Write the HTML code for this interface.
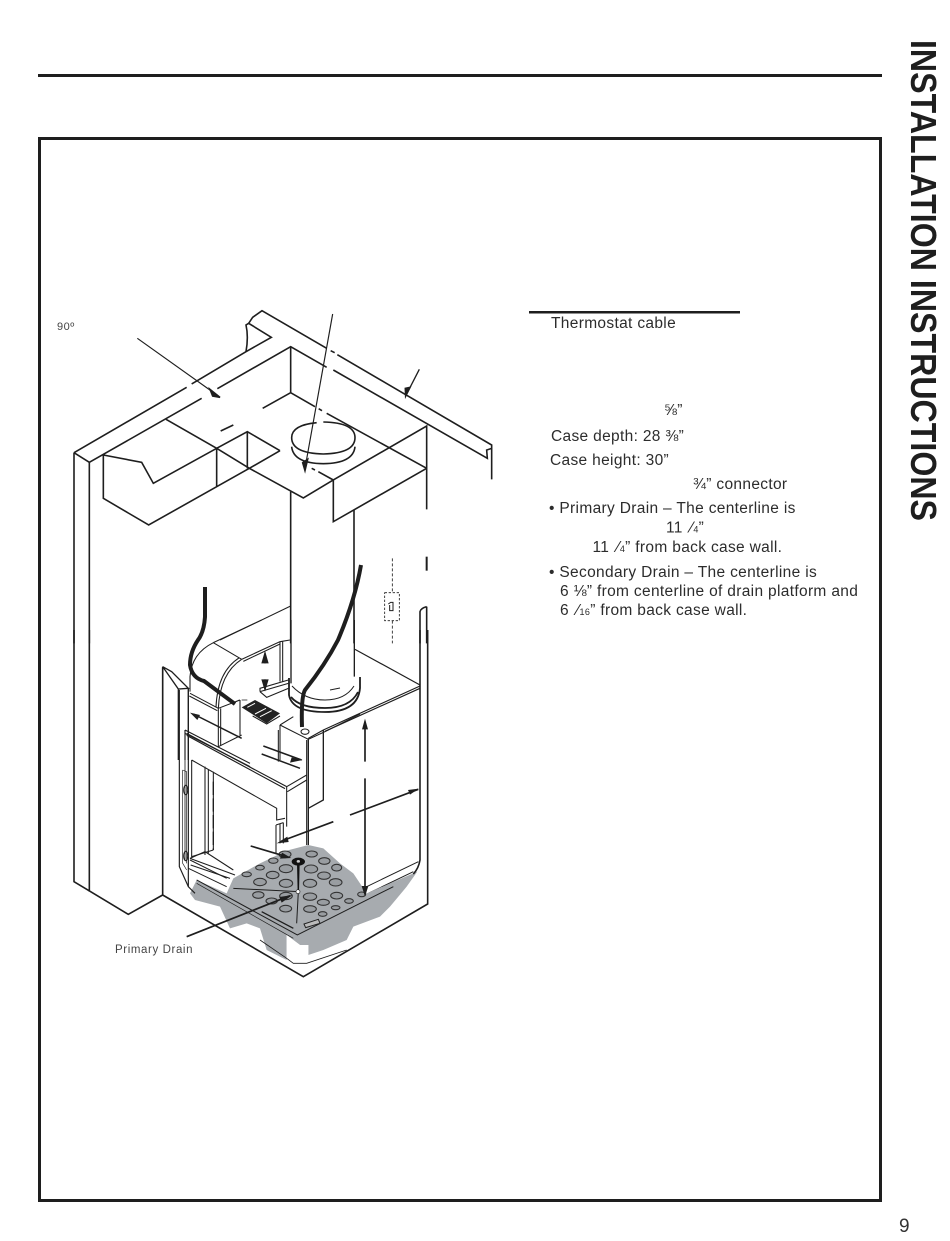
<!DOCTYPE html>
<html><head><meta charset="utf-8"><style>
html,body{margin:0;padding:0;background:#fff}
svg{display:block}
text{font-family:"Liberation Sans",sans-serif}
.t{font-size:15.500px;letter-spacing:.33px;fill:#2c2c2c}
.l{fill:none;stroke:#1e1e1e;stroke-linejoin:miter}
</style></head><body>
<svg width="950" height="1241" viewBox="0 0 950 1241" xmlns="http://www.w3.org/2000/svg">
<rect width="950" height="1241" fill="#fff"/>
<rect x="38" y="74" width="844" height="3" fill="#1e1e1e"/>
<rect x="39.500" y="138.500" width="841" height="1062" fill="none" stroke="#1e1e1e" stroke-width="3"/>
<text transform="translate(911,40) rotate(90)" font-size="36" font-weight="bold" fill="#1e1e1e" textLength="481" lengthAdjust="spacingAndGlyphs">INSTALLATION INSTRUCTIONS</text>
<text x="899" y="1232" font-size="19" fill="#333">9</text>

<!-- upper drawing -->
<g transform="translate(60,300) scale(.33333)" class="l" stroke-width="4.800">
<path d="M42 458L380 262M395 252L558 155L634 112L566 70L578 52L606 32L800 145M812 152L824 158M832 164L1295 435V538"/>
<path d="M42 458L88 487M88 487L425 295M472 266L692 140L800 202M820 210L1282 475L1280 450L1295 445"/>
<path d="M558 155Q566 110 558 75L566 70"/>
<path d="M692 140V278L608 325M692 278L765 320M776 326L786 332M800 340L1100 505M482 393L520 375"/>
<path d="M318 358L470 445L568 505L730 594L820 540L1100 378V628"/>
<path d="M130 465L245 487L280 550L470 445V560M130 465V595L266 675L470 560L568 505L660 452"/>
<path d="M470 445L562 395L660 452M562 395V505"/>
<path d="M820 540L775 515M765 510L755 505M820 540V665L1100 505"/>
<path d="M692 575V1030M882 630V1030"/>
<path d="M770 368Q695 375 695 413Q695 460 790 462Q885 460 885 413Q885 368 790 366"/>
<path d="M695 440Q700 490 790 491Q880 490 885 440"/>
<path d="M42 458V1030M88 487V1030"/>
<path d="M1100 920V1030M1080 1030V935Q1082 925 1100 920"/>
<path d="M480 1020L692 918" stroke-width="3"/>
<path d="M232 115L475 288M818 42L735 505" stroke-width="3.500"/>
<path d="M1078 208L1040 282" stroke-width="4"/>
<path d="M1100 770V812" stroke-width="6"/>
<path d="M997 775V878M997 962V1030" stroke-dasharray="9 6" stroke-width="2.500"/>
<rect x="974" y="878" width="44" height="84" stroke-dasharray="7 5" stroke-width="2.500"/>
<path d="M985 912L992 907H999V932H989V915" stroke-width="3"/>
<path d="M450 268L480 292L458 288Z M743 478L735 512L728 488Z M1050 262L1037 288L1036 265Z" fill="#1e1e1e"/>
</g>

<!-- gray drain pan -->
<g transform="translate(60,630) scale(.33333)">
<path d="M390 690L500 745M385 715L500 770M920 770L1075 695M925 790L1060 725" class="l" stroke-width="3"/>
<path d="M500 790L520 745L600 700L680 662L745 645L790 655L840 700L880 730L920 790L1072 725L1040 770L990 830L960 860L880 890L860 930L790 960L745 975V945L720 945L680 915V990L620 960L600 895L560 880L510 895L480 830L405 810L390 790L410 750Z" fill="#a7abaf"/>
<path d="M680 915V985L730 1008L745 975V945L720 945Z" fill="#fff"/>
<path d="M600 930L680 985L700 1000H740L860 960" class="l" stroke-width="2.500"/>
<path d="M410 750L712 915L1000 770" class="l" stroke="#555" stroke-width="3"/>
<path d="M410 760L700 925" class="l" stroke="#555" stroke-width="2"/>
<path d="M715 785L520 775M715 785L710 880" class="l" stroke-width="3"/>
<path d="M605 845L700 895" class="l" stroke="#444" stroke-width="4"/>
<path d="M732 882L775 868L780 880L737 893Z" fill="#bbb" stroke="#222" stroke-width="3"/>
<ellipse cx="715" cy="695" rx="20" ry="12" fill="#111"/>
<ellipse cx="715" cy="694" rx="5" ry="4" fill="#ccc"/>
<path d="M711 700H719L717 785H713Z" fill="#111"/>
<circle cx="714" cy="785" r="6" fill="#fff" stroke="#222" stroke-width="2"/>
</g>
<g transform="translate(180,830) scale(.33333)" fill="#999da1" stroke="#333" stroke-width="3.200">
<ellipse cx="395" cy="72" rx="17" ry="9"/><ellipse cx="433" cy="93" rx="17" ry="10"/><ellipse cx="315" cy="73" rx="18" ry="10"/>
<ellipse cx="280" cy="92" rx="14" ry="8"/><ellipse cx="240" cy="113" rx="13" ry="7"/><ellipse cx="200" cy="133" rx="14" ry="7"/>
<ellipse cx="318" cy="116" rx="20" ry="12"/><ellipse cx="278" cy="135" rx="19" ry="11"/><ellipse cx="240" cy="156" rx="19" ry="11"/>
<ellipse cx="393" cy="117" rx="20" ry="12"/><ellipse cx="432" cy="137" rx="19" ry="11"/><ellipse cx="470" cy="113" rx="15" ry="10"/>
<ellipse cx="467" cy="157" rx="19" ry="11"/><ellipse cx="390" cy="160" rx="20" ry="12"/><ellipse cx="318" cy="160" rx="20" ry="12"/>
<ellipse cx="235" cy="195" rx="17" ry="10"/><ellipse cx="275" cy="213" rx="17" ry="9"/><ellipse cx="318" cy="198" rx="19" ry="11"/>
<ellipse cx="390" cy="200" rx="20" ry="11"/><ellipse cx="430" cy="217" rx="18" ry="9"/><ellipse cx="470" cy="197" rx="18" ry="10"/>
<ellipse cx="507" cy="213" rx="13" ry="7"/><ellipse cx="317" cy="236" rx="18" ry="10"/><ellipse cx="390" cy="237" rx="19" ry="10"/>
<ellipse cx="467" cy="233" rx="13" ry="6"/><ellipse cx="428" cy="252" rx="13" ry="7"/><ellipse cx="545" cy="193" rx="12" ry="7"/>
</g>

<!-- lower casing -->
<g transform="translate(60,630) scale(.33333)" class="l" stroke-width="4.800">
<path d="M42 0V755L205 853L308 795M88 0V785"/>
<path d="M308 112V795L730 1040L1103 822V0"/>
<path d="M1080 0V690Q1076 715 1060 732"/>
<path d="M358 180V710L385 770L405 790" stroke-width="3.500"/>
<path d="M385 178V770" stroke-width="3.500"/>
<path d="M375 300V690" stroke-width="2.500"/>
<path d="M745 325V645" stroke-width="4"/>
<path d="M885 58L1080 165M1080 168L790 300L745 325M1080 175L795 304" stroke-width="3.500"/>
<path d="M790 300V510L745 535" stroke-width="4"/>
<path d="M1075 478L870 555M820 575L665 633M915 275V395M915 445V790M572 648L680 680M380 920L690 797" stroke-width="5"/>
<path d="M1076 476L1050 494L1044 480Z M650 640L682 620L686 636Z M915 266L906 298H924Z M915 800L905 768H925Z M694 684L660 686L666 668Z M698 795L665 818L658 801Z" fill="#1e1e1e" stroke="none"/>
</g>
<g transform="translate(160,620) scale(.33333)" class="l" stroke-width="3.200">
<path d="M393 0V190M583 0V170" stroke-width="4"/>
<path d="M160 68L305 0M160 68L245 118M160 68Q95 100 90 170V215M245 118Q180 160 175 265M238 113Q172 155 168 262"/>
<path d="M245 118L360 65L390 60M250 124L360 72M360 65V185M368 65V185"/>
<path d="M90 220L175 265L240 240M88 228L172 272M175 265V380M182 265V378M240 240V345M175 380L245 345"/>
<path d="M300 215L385 190M300 215L320 232L385 205M300 215V205L385 180"/>
<path d="M360 288L320 312L278 288M360 315V420M360 315L400 290M360 315L445 358L495 335L600 282M445 358V420"/>
<path d="M8 140V420M8 140L55 207L85 205L35 155L8 140M55 207V420M85 205V420" stroke-width="4"/>
<path d="M75 330V420M75 330L270 430M75 340L270 440" stroke-width="3.500"/>
<path d="M245 355L100 282M310 378L425 420M305 402L420 445M315 130V100M315 178V208" stroke-width="4.500"/>
<path d="M90 278L120 285L112 300Z M315 92L304 130H326Z M315 215L304 178H326Z M428 420L395 412L390 428Z" fill="#1e1e1e" stroke="none"/>
<ellipse cx="435" cy="335" rx="12" ry="8"/>
<path d="M245 262L285 240L360 280L320 310Z" fill="#222" stroke="none"/>
<path d="M262 262L285 250M285 282L318 265M300 290L335 272" stroke="#fff" stroke-width="3"/>
<path d="M228 245L238 240M245 240H262" stroke-width="2.500"/>
</g>
<!-- flue collar -->
<path d="M289 678V695Q292 712 325 712Q358 712 360 688V677" class="l" stroke-width="1.800"/>
<path d="M291 697Q300 708 325 708Q350 708 358 692" class="l" stroke="#333" stroke-width="1.800"/>
<path d="M292 686Q305 700 325 700Q345 700 354 686" class="l" stroke="#444" stroke-width="1"/>
<path d="M330 690L340 688" class="l" stroke="#444" stroke-width="1"/>
<g transform="translate(170,730) scale(.33333)" class="l" stroke-width="3.200">
<path d="M65 90V380L130 360M65 90L320 235V270L345 265M105 110V375M130 125V360M115 118V370" />
<path d="M50 10L350 170M50 16L345 176" stroke-width="3.500"/>
<path d="M350 170L410 135M350 170V290M352 185L410 150M410 30V345M325 0V95"/>
<path d="M60 385L195 435M60 385L105 365L190 420M62 405L180 445"/>
<path d="M318 285V370M330 280V340M340 278V340M318 285L340 278"/>
<path d="M38 120V400L50 420M38 120L50 125V400" stroke-width="2"/>
<ellipse cx="47" cy="180" rx="6" ry="14"/><ellipse cx="47" cy="378" rx="6" ry="14"/>
<path d="M130 155V360" stroke-width="4" stroke-dasharray="40 10"/>
</g>
<!-- cables -->
<path d="M205 587V617Q204 632 198 640Q190 652 190 665Q192 678 204 681L235 704" class="l" stroke="#111" stroke-width="4"/>
<path d="M361 565Q355 600 338 640Q325 665 305 690Q301 697 302 727" class="l" stroke="#111" stroke-width="4"/>

<text x="57" y="330" font-size="11" letter-spacing=".5" fill="#444">90º</text>
<text x="115" y="953" font-size="11.500" letter-spacing=".6" fill="#444">Primary Drain</text>

<rect x="529" y="311" width="211" height="2.500" fill="#1e1e1e"/>
<text class="t" x="551" y="328">Thermostat cable</text>
<text class="t" x="664" y="415">⅝”</text>
<text class="t" x="551" y="441">Case depth: 28 ⅜”</text>
<text class="t" x="550" y="465">Case height: 30”</text>
<text class="t" x="693" y="489">¾” connector</text>
<text class="t" x="549" y="513">• Primary Drain – The centerline is</text>
<text class="t" x="666" y="532.500">11 <tspan dx="3">⁄</tspan><tspan font-size="9">4</tspan>”</text>
<text class="t" x="592.500" y="552">11 <tspan dx="3">⁄</tspan><tspan font-size="9">4</tspan>” from back case wall.</text>
<text class="t" x="549" y="577">• Secondary Drain – The centerline is</text>
<text class="t" x="560" y="596">6 ⅛” from centerline of drain platform and</text>
<text class="t" x="560" y="615">6 <tspan dx="3">⁄</tspan><tspan font-size="9">16</tspan>” from back case wall.</text>
</svg>
</body></html>
